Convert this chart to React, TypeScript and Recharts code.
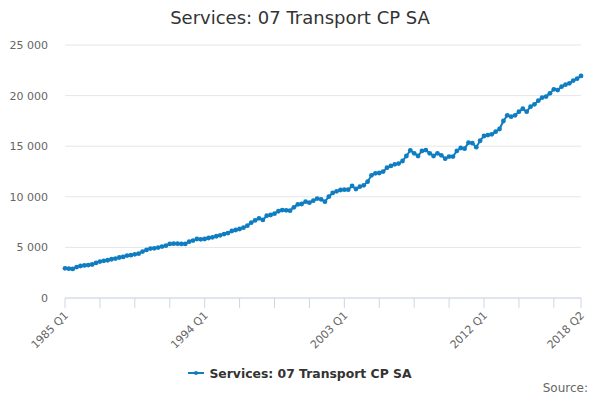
import React from 'react';
import {
  CartesianGrid, Line, LineChart, XAxis, YAxis,
} from 'recharts';

const SERIES_NAME = 'Services: 07 Transport CP SA';
const FIRST_YEAR = 1985;

// quarterly values, 1985 Q1 .. 2018 Q2
const values = [
  2930, 2900, 2870, 3060, 3160, 3220, 3250, 3310, 3470, 3600, 3670, 3730,
  3830, 3900, 4000, 4060, 4190, 4230, 4320, 4390, 4590, 4750, 4880, 4910,
  4980, 5080, 5170, 5340, 5370, 5370, 5340, 5340, 5570, 5670, 5830, 5800,
  5830, 5930, 6000, 6100, 6190, 6320, 6420, 6620, 6720, 6820, 6950, 7150,
  7440, 7670, 7870, 7710, 8130, 8200, 8330, 8570, 8690, 8660, 8630, 8960,
  9250, 9290, 9520, 9420, 9620, 9820, 9750, 9520, 10010, 10380, 10540, 10670,
  10700, 10700, 11070, 10770, 11000, 11130, 11490, 12120, 12320, 12350, 12490, 12880,
  13050, 13210, 13280, 13540, 14030, 14590, 14300, 14030, 14530, 14620, 14300, 14030,
  14300, 14100, 13770, 13970, 13970, 14530, 14820, 14760, 15350, 15300, 14900, 15540,
  16010, 16100, 16170, 16440, 16700, 17490, 18050, 17920, 18050, 18410, 18710, 18410,
  18910, 19140, 19500, 19800, 19900, 20220, 20620, 20550, 20880, 21080, 21210, 21480,
  21670, 21940,
];

const quarters = values.map((_, i) => `${FIRST_YEAR + Math.floor(i / 4)} Q${(i % 4) + 1}`);

const tickIdx = [0, 9, 18, 27, 36, 45, 54, 63, 72, 81, 90, 99, 108, 117, 126, 133];
const labelledIdx = [0, 36, 72, 108, 133];
const yTicks = [0, 5000, 10000, 15000, 20000, 25000];

const FONT = '"DejaVu Sans", sans-serif';
const BLUE = '#0f7dc2';

const data = values.map((v, i) => ({ idx: i, quarter: quarters[i], value: v }));

const fmt = (v: number) => String(v).replace(/\B(?=(\d{3})+(?!\d))/g, ' ');

function XTick({ x, y, payload }: any) {
  if (!labelledIdx.includes(payload.value)) return null;
  const tx = x + 4;
  const ty = y + 6;
  return (
    <text
      x={tx}
      y={ty}
      transform={`rotate(-45 ${tx} ${ty})`}
      textAnchor="end"
      fontSize={11}
      fill="#666"
      fontFamily={FONT}
    >
      {quarters[payload.value]}
    </text>
  );
}

export default function App() {
  return (
    <div style={{
      position: 'absolute', left: 0, top: 0, width: 600, height: 400, background: '#fff', fontFamily: FONT,
    }}
    >
      <div style={{
        position: 'absolute', top: 8, left: 0, width: 600, textAlign: 'center', fontSize: 18, lineHeight: '20px', color: '#333',
      }}
      >
        {SERIES_NAME}
      </div>
      <LineChart
        width={600}
        height={400}
        data={data}
        margin={{
          top: 45, right: 19, bottom: 72, left: 0,
        }}
      >
        <CartesianGrid vertical={false} stroke="#e6e6e6" />
        <XAxis
          type="number"
          dataKey="idx"
          domain={[0, 133]}
          ticks={tickIdx}
          interval={0}
          height={30}
          tickSize={10}
          tickLine={{ stroke: '#ccd6eb' }}
          axisLine={{ stroke: '#ccd6eb' }}
          tick={<XTick />}
        />
        <YAxis
          width={65}
          domain={[0, 25000]}
          ticks={yTicks}
          tickFormatter={fmt}
          axisLine={false}
          tickLine={false}
          tickSize={0}
          tickMargin={17}
          tick={{ fontSize: 11, fill: '#666', fontFamily: FONT }}
        />
        <Line
          dataKey="value"
          name={SERIES_NAME}
          stroke={BLUE}
          strokeWidth={2}
          dot={{ r: 2.4, fill: BLUE, stroke: BLUE, strokeWidth: 0 }}
          isAnimationActive={false}
        />
      </LineChart>
      <div style={{
        position: 'absolute', top: 365, left: 0, width: 600, display: 'flex', justifyContent: 'center', alignItems: 'center',
      }}
      >
        <svg width={16} height={16} style={{ marginRight: 5 }}>
          <line x1={0} y1={8} x2={16} y2={8} stroke={BLUE} strokeWidth={2} />
          <circle cx={8} cy={8} r={2} fill={BLUE} />
        </svg>
        <span style={{ fontSize: 12.4, fontWeight: 'bold', color: '#333' }}>{SERIES_NAME}</span>
      </div>
      <div style={{
        position: 'absolute', top: 380, right: 12, fontSize: 12, lineHeight: '16px', color: '#666',
      }}
      >
        Source:
      </div>
    </div>
  );
}
